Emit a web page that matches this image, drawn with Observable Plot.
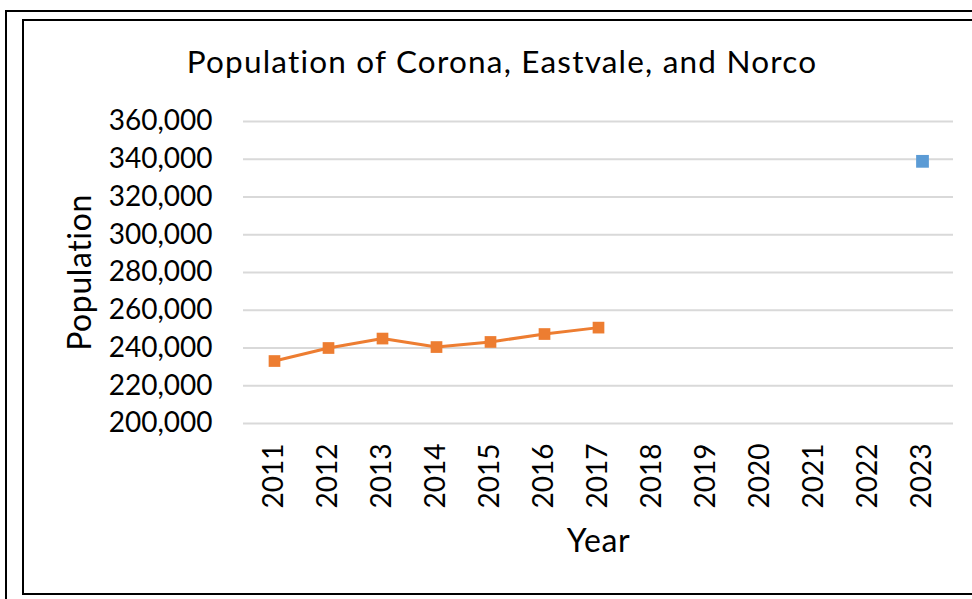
<!DOCTYPE html>
<html>
<head>
<meta charset="utf-8">
<script src="https://cdn.jsdelivr.net/npm/d3@7"></script>
<script src="https://cdn.jsdelivr.net/npm/@observablehq/plot@0.6"></script>
<style>
  html, body { margin: 0; padding: 0; background: #fff; overflow: hidden; }
  #page { position: relative; width: 972px; height: 599px; overflow: hidden; font-family: Lato, "Noto Sans", sans-serif; font-variant-ligatures: none; }
  #page svg text { font-variant-ligatures: none; }
  .frame-outer { position: absolute; left: 5px; top: 10px; width: 1000px; height: 620px; border-top: 2px solid #000; border-left: 2px solid #000; }
  .frame-inner { position: absolute; left: 22px; top: 19px; width: 1000px; height: 576px; box-sizing: border-box; border: 2px solid #000; border-right: none; }
  #title { position: absolute; left: 0; top: 46px; width: 1004px; text-align: center; font-size: 31.5px; line-height: 31.5px; letter-spacing: 1.2px; color: #000; white-space: nowrap; }
  #chart { position: absolute; left: 0; top: 0; }
  .axis-title { letter-spacing: 0.6px; }
</style>
</head>
<body>
<div id="page">
  <div class="frame-outer"></div>
  <div class="frame-inner"></div>
  <div id="chart"></div>
  <div id="title">Population of Corona, Eastvale, and Norco</div>
</div>
<script>
// Category axis: every year shown on the chart
const years = ["2011", "2012", "2013", "2014", "2015", "2016", "2017",
               "2018", "2019", "2020", "2021", "2022", "2023"];

// Combined population, annual estimates
const trendYears = ["2011", "2012", "2013", "2014", "2015", "2016", "2017"];
const trendPop = [233100, 240000, 245000, 240500, 243200, 247400, 250800];

// Single later value
const laterYears = ["2023"];
const laterPop = [338900];

// Value axis ticks
const yTicks = [200000, 220000, 240000, 260000, 280000, 300000, 320000, 340000, 360000];

const trend = trendYears.map((year, i) => ({year, pop: trendPop[i]}));
const later = laterYears.map((year, i) => ({year, pop: laterPop[i]}));

const orange = "#ED7D31";
const blue = "#5B9BD5";

const chart = Plot.plot({
  width: 972,
  height: 599,
  marginLeft: 243,
  marginRight: 19,
  marginTop: 121,
  marginBottom: 176,
  style: {fontFamily: "Lato, 'Noto Sans', sans-serif", fontSize: "28px", color: "#000", background: "transparent"},
  x: {type: "point", domain: years, padding: 0.5},
  y: {domain: [200000, 360000]},
  marks: [
    Plot.ruleY(yTicks, {stroke: "#d9d9d9", strokeWidth: 2}),
    Plot.axisY({ticks: yTicks, tickFormat: d3.format(","), tickSize: 0, tickPadding: 31, label: null, fill: "#000"}),
    Plot.axisX({tickRotate: -90, tickSize: 0, tickPadding: 20, label: null, fill: "#000"}),
    Plot.text(["Population"], {frameAnchor: "left", textAnchor: "middle", dx: -163, rotate: -90, fontSize: 32, fill: "#000", className: "axis-title"}),
    Plot.text(["Year"], {frameAnchor: "bottom", textAnchor: "middle", dy: 128, lineAnchor: "bottom", fontSize: 32, fill: "#000", className: "axis-title"}),
    Plot.line(trend, {x: "year", y: "pop", stroke: orange, strokeWidth: 3}),
    Plot.dot(trend, {x: "year", y: "pop", symbol: "square", r: 6.6, fill: orange, stroke: "none"}),
    Plot.dot(later, {x: "year", y: "pop", symbol: "square", r: 7.2, fill: blue, stroke: "none"})
  ]
});

document.getElementById("chart").appendChild(chart);
</script>
</body>
</html>
